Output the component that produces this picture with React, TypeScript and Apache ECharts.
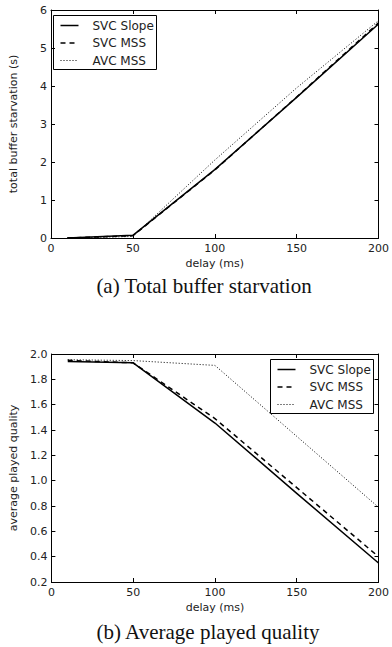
import React, { useEffect, useRef } from "react";
import * as echarts from "echarts";

// ---- data ----
const delays = [10, 50, 100, 150, 200];
const seriesNames = ["SVC Slope", "SVC MSS", "AVC MSS"];

const starvationSvcSlope = [0, 0.07, 1.8, 3.7, 5.63];
const starvationSvcMss = [0, 0.06, 1.79, 3.71, 5.66];
const starvationAvcMss = [0, 0.04, 2.05, 3.95, 5.72];

const qualitySvcSlope = [1.94, 1.93, 1.455, 0.9, 0.35];
const qualitySvcMss = [1.95, 1.93, 1.49, 0.945, 0.4];
const qualityAvcMss = [1.955, 1.948, 1.91, 1.35, 0.79];

const xAxisName = "delay (ms)";
const yAxisNameA = "total buffer starvation (s)";
const yAxisNameB = "average played quality";
const captionA = "(a) Total buffer starvation";
const captionB = "(b) Average played quality";

const FONT = "DejaVu Sans";
const TEXT = "#222";

const lineStyles: any[] = [
  { type: "solid", width: 1.5 },
  { type: [5, 4], width: 1.5 },
  { type: [1, 2], width: 1 },
];

function pairs(vals: number[]) {
  return delays.map((d, i) => [d, vals[i]]);
}

function xAxes(gridIndex: number) {
  const common = {
    type: "value",
    gridIndex,
    min: 0,
    max: 200,
    interval: 50,
    splitLine: { show: false },
    axisLine: { show: true, onZero: false, lineStyle: { color: "#000", width: 1 } },
    axisTick: { show: true, inside: true, length: 4, lineStyle: { color: "#000", width: 1 } },
  };
  return [
    {
      ...common,
      position: "bottom",
      axisLabel: { color: TEXT, fontSize: 11, fontFamily: FONT, margin: 5 },
      name: xAxisName,
      nameLocation: "middle",
      nameGap: 20,
      nameTextStyle: { color: TEXT, fontSize: 11, fontFamily: FONT },
    },
    { ...common, position: "top", axisLabel: { show: false } },
  ];
}

function yAxes(gridIndex: number, min: number, max: number, interval: number, name: string, digits: number) {
  const common = {
    type: "value",
    gridIndex,
    min,
    max,
    interval,
    splitLine: { show: false },
    axisLine: { show: true, onZero: false, lineStyle: { color: "#000", width: 1 } },
    axisTick: { show: true, inside: true, length: 4, lineStyle: { color: "#000", width: 1 } },
  };
  return [
    {
      ...common,
      position: "left",
      axisLabel: {
        color: TEXT,
        fontSize: 11,
        fontFamily: FONT,
        margin: 4,
        formatter: (v: number) => v.toFixed(digits),
      },
      name,
      nameLocation: "middle",
      nameGap: 32,
      nameTextStyle: { color: TEXT, fontSize: 11, fontFamily: FONT },
    },
    { ...common, position: "right", axisLabel: { show: false } },
  ];
}

function makeSeries(xIdx: number, yIdx: number, data: number[][]) {
  return data.map((vals, i) => ({
    name: seriesNames[i],
    type: "line",
    xAxisIndex: xIdx,
    yAxisIndex: yIdx,
    symbol: "none",
    showSymbol: false,
    data: pairs(vals),
    lineStyle: { color: "#000", ...lineStyles[i] },
    itemStyle: { color: "#000" },
    z: 2,
  }));
}

// legend drawn as a graphic group (box, line samples, labels)
function legendGroup(left: number, top: number) {
  const rowGap = 17.5;
  const children: any[] = [
    {
      type: "rect",
      shape: { x: 0, y: 0, width: 103, height: 54 },
      style: { fill: "#fff", stroke: "#000", lineWidth: 1 },
    },
  ];
  seriesNames.forEach((n, i) => {
    const cy = 10 + i * rowGap;
    const ls = lineStyles[i];
    children.push({
      type: "line",
      shape: { x1: 7, y1: cy, x2: 25, y2: cy },
      style: {
        stroke: "#000",
        lineWidth: ls.width,
        lineDash: Array.isArray(ls.type) ? ls.type : null,
      },
    });
    children.push({
      type: "text",
      x: 39,
      y: cy,
      style: {
        text: n,
        fill: TEXT,
        font: `12px "${FONT}"`,
        align: "left",
        verticalAlign: "middle",
      },
    });
  });
  return { type: "group", x: left + 0.5, y: top + 0.5, z: 100, children };
}

export default function App() {
  const ref = useRef<HTMLDivElement>(null);
  useEffect(() => {
    const chart = echarts.init(ref.current!, null, { renderer: "svg" });
    const option: any = {
      animation: false,
      backgroundColor: "#fff",
      grid: [
        { left: 48, top: 10, width: 331, height: 228 },
        { left: 48, top: 354, width: 331, height: 228 },
      ],
      xAxis: [...xAxes(0), ...xAxes(1)],
      yAxis: [
        ...yAxes(0, 0, 6, 1, yAxisNameA, 0),
        ...yAxes(1, 0.2, 2.0, 0.2, yAxisNameB, 1),
      ],
      series: [
        ...makeSeries(0, 0, [starvationSvcSlope, starvationSvcMss, starvationAvcMss]),
        ...makeSeries(2, 2, [qualitySvcSlope, qualitySvcMss, qualityAvcMss]),
      ],
      graphic: [
        legendGroup(53, 15),
        legendGroup(270, 359),
        {
          type: "text",
          x: 204,
          y: 286,
          style: {
            text: captionA,
            font: '21px "Liberation Serif"',
            fill: "#111",
            align: "center",
            verticalAlign: "middle",
          },
        },
        {
          type: "text",
          x: 208,
          y: 632,
          style: {
            text: captionB,
            font: '21px "Liberation Serif"',
            fill: "#111",
            align: "center",
            verticalAlign: "middle",
          },
        },
      ],
    };
    chart.setOption(option);
    return () => chart.dispose();
  }, []);
  return (
    <div
      ref={ref}
      style={{ position: "absolute", left: 0, top: 0, width: 392, height: 647, background: "#fff" }}
    />
  );
}
